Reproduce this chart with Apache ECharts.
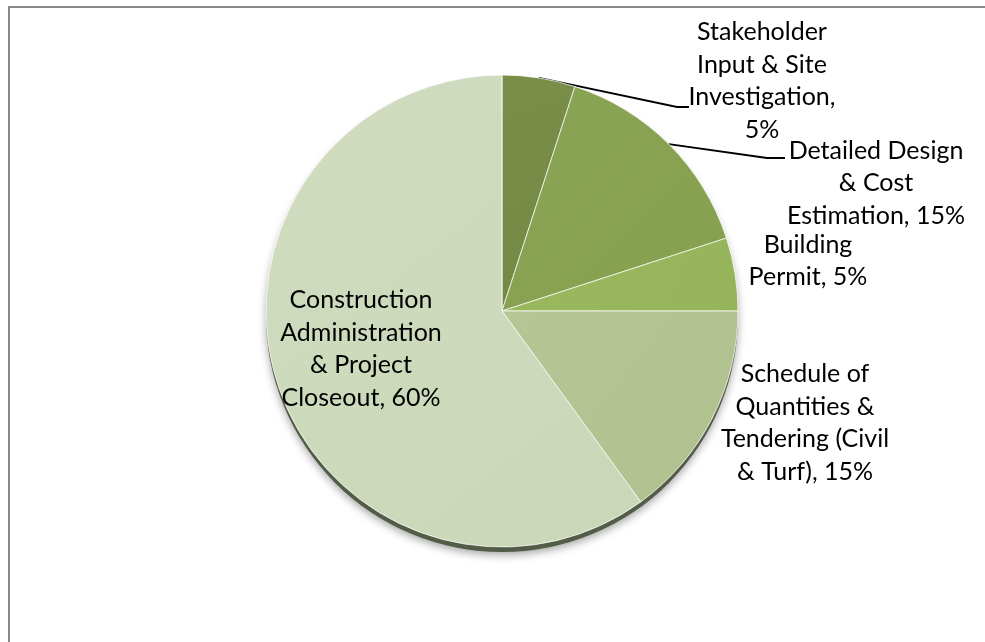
<!DOCTYPE html>
<html>
<head>
<meta charset="utf-8">
<script src="https://cdn.jsdelivr.net/npm/echarts@6/dist/echarts.min.js"></script>
<style>
html,body{margin:0;padding:0;background:#fff;}
#c{width:985px;height:642px;}
</style>
</head>
<body>
<div id="c"></div>
<script>
// ---- data ----
var categories = [
  'Stakeholder Input & Site Investigation',
  'Detailed Design & Cost Estimation',
  'Building Permit',
  'Schedule of Quantities & Tendering (Civil & Turf)',
  'Construction Administration & Project Closeout'
];
var values = [5, 15, 5, 15, 60];
// wrapped label text (as in the reference)
var labelLines = [
  ['Stakeholder', 'Input & Site', 'Investigation,'],
  ['Detailed Design', '& Cost', 'Estimation,'],
  ['Building', 'Permit,'],
  ['Schedule of', 'Quantities &', 'Tendering (Civil', '& Turf),'],
  ['Construction', 'Administration', '& Project', 'Closeout,']
];
var sliceColors = ['#748943', '#85a04f', '#96b459', '#b0c18f', '#cad7b7'];
var sliceLight  = ['#7a8e49', '#8aa455', '#9ab85e', '#b5c594', '#d1dcc0'];

// ---- layout (label placement, pixels) ----
var labelPos = [
  {x: 762, y: 81},
  {x: 876, y: 183},
  {x: 808, y: 261},
  {x: 805, y: 423},
  {x: 361, y: 349}
];
var leaderBends = [
  [[677, 107], [689, 107]],
  [[767, 158], [785, 158]],
  null, null, null
];

var chart = echarts.init(document.getElementById('c'), null, {renderer: 'canvas'});

function fmt(p) {
  var lines = labelLines[p.dataIndex].slice();
  var last = lines.length - 1;
  var pct = Math.round(p.percent) + '%';
  if (p.dataIndex === 0) {
    lines.push(pct);
  } else {
    lines[last] = lines[last] + ' ' + pct;
  }
  return lines.join('\n');
}

var data = categories.map(function (name, i) {
  return {
    name: name,
    value: values[i],
    itemStyle: {
      color: {
        type: 'linear', x: 0, y: 0, x2: 1, y2: 1,
        colorStops: [{offset: 0, color: sliceLight[i]}, {offset: 1, color: sliceColors[i]}]
      }
    },
    label: {position: i === 4 ? 'inside' : 'outside'},
    labelLine: {show: !!leaderBends[i]}
  };
});

var option = {
  backgroundColor: '#ffffff',
  animation: false,
  graphic: [{
    type: 'rect',
    shape: {x: 9, y: 7, width: 1100, height: 800},
    style: {fill: 'none', stroke: '#888888', lineWidth: 2},
    silent: true,
    z: 100
  }],
  series: [
    {
      type: 'pie',
      silent: true,
      center: [502, 316],
      radius: 236,
      label: {show: false},
      labelLine: {show: false},
      z: 1,
      data: [{value: 1, name: 'rim', itemStyle: {
        color: '#525c46',
        shadowBlur: 8, shadowColor: 'rgba(0,0,0,0.35)', shadowOffsetY: 3
      }}]
    },
    {
      type: 'pie',
      center: [502, 311],
      radius: 236,
      startAngle: 90,
      clockwise: true,
      z: 2,
      itemStyle: {borderColor: 'rgba(255,255,255,0.75)', borderWidth: 1},
      label: {
        show: true,
        formatter: fmt,
        fontFamily: 'Lato, "Noto Sans", sans-serif',
        fontSize: 25,
        lineHeight: 32.5,
        color: '#000000',
        align: 'center'
      },
      labelLine: {
        show: true,
        length: 20,
        length2: 10,
        lineStyle: {color: '#000000', width: 1.8}
      },
      labelLayout: function (params) {
        var i = params.dataIndex;
        var res = {x: labelPos[i].x, y: labelPos[i].y, align: 'center', verticalAlign: 'middle'};
        if (leaderBends[i] && params.labelLinePoints) {
          var p0 = params.labelLinePoints[0];
          res.labelLinePoints = [p0, leaderBends[i][0], leaderBends[i][1]];
        }
        return res;
      },
      data: data
    }
  ]
};
chart.setOption(option);
</script>
</body>
</html>
